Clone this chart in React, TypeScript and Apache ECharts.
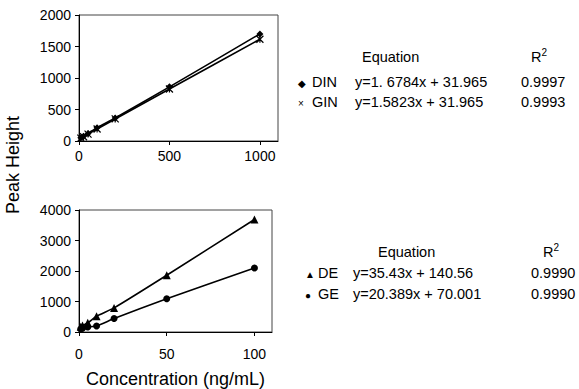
import React, { useEffect, useRef } from "react";
import * as echarts from "echarts";

const xTop = [10, 25, 50, 100, 200, 500, 1000];
const dinValues = [50, 75, 120, 210, 365, 860, 1700];
const ginValues = [45, 68, 110, 190, 350, 825, 1615];

const xBottom = [1, 2, 5, 10, 20, 50, 100];
const deValues = [170, 215, 300, 520, 790, 1860, 3690];
const geValues = [100, 125, 165, 195, 440, 1090, 2100];

const topYTicks = [0, 500, 1000, 1500, 2000];
const bottomYTicks = [0, 1000, 2000, 3000, 4000];

const topRows = [
  { mark: "◆", name: "DIN", eq: "y=1. 6784x + 31.965", r2: "0.9997" },
  { mark: "×", name: "GIN", eq: "y=1.5823x + 31.965", r2: "0.9993" },
];
const bottomRows = [
  { mark: "▲", name: "DE", eq: "y=35.43x + 140.56", r2: "0.9990" },
  { mark: "●", name: "GE", eq: "y=20.389x + 70.001", r2: "0.9990" },
];

const FONT = "Liberation Sans, Arial, sans-serif";
const crossPath = "path://M0,0L10,10M10,0L0,10M5,0L5,10";

export default function App() {
  const ref = useRef<HTMLDivElement>(null);
  useEffect(() => {
    if (!ref.current) return;
    const chart = echarts.init(ref.current, undefined, { renderer: "svg" });
    const axisCommon = {
      axisLine: { show: true, lineStyle: { color: "#000", width: 1 } },
      axisTick: { show: true, inside: false, length: 4, lineStyle: { color: "#000" } },
      splitLine: { show: false },
      axisLabel: {
        color: "#000",
        fontSize: 14,
        fontFamily: FONT,
        margin: 8,
        formatter: (v: number) => String(v),
      },
    };
    const base = { fill: "#000", fontSize: 14.5, fontFamily: FONT, verticalAlign: "middle" };
    const tableText: any[] = [];
    const buildTable = (
      rows: any[],
      headY: number,
      eqHeadX: number,
      r2X: number,
      markX: number,
      nameX: number,
      eqX: number,
      valX: number,
      rowYs: number[]
    ) => {
      tableText.push({ type: "text", x: eqHeadX, y: headY, style: { ...base, text: "Equation" } });
      tableText.push({
        type: "text",
        x: r2X,
        y: headY,
        style: {
          ...base,
          text: "R{sup|2}",
          rich: {
            sup: { fontSize: 10, fontFamily: FONT, fill: "#000", verticalAlign: "top", padding: [0, 0, 9, 0] },
          },
        },
      });
      rows.forEach((r, i) => {
        const y = rowYs[i];
        tableText.push({ type: "text", x: markX, y: y + 1, style: { ...base, fontSize: 10, text: r.mark } });
        tableText.push({ type: "text", x: nameX, y, style: { ...base, text: r.name } });
        tableText.push({ type: "text", x: eqX, y, style: { ...base, text: r.eq } });
        tableText.push({ type: "text", x: valX, y, style: { ...base, text: r.r2 } });
      });
    };
    buildTable(topRows, 57, 362, 531, 298, 312, 355, 521, [82, 102]);
    buildTable(bottomRows, 252, 378, 543, 305, 318, 353, 531, [273, 294]);

    const lineStyle = { color: "#000", width: 1.6 };
    chart.setOption({
      animation: false,
      backgroundColor: "#fff",
      textStyle: { fontFamily: FONT },
      grid: [
        { left: 79, top: 15, width: 199, height: 126, show: true, borderColor: "#444", borderWidth: 1 },
        { left: 79, top: 210, width: 193, height: 124, show: true, borderColor: "#444", borderWidth: 1 },
      ],
      xAxis: [
        {
          ...axisCommon,
          gridIndex: 0,
          type: "value",
          min: 0,
          max: 1100,
          interval: 500,
          axisLabel: { ...axisCommon.axisLabel, showMaxLabel: false, margin: 8 },
        },
        {
          ...axisCommon,
          gridIndex: 1,
          type: "value",
          min: 0,
          max: 110,
          interval: 50,
          axisLabel: { ...axisCommon.axisLabel, showMaxLabel: false, margin: 15 },
          name: "Concentration (ng/mL)",
          nameLocation: "middle",
          nameGap: 38,
          nameTextStyle: { color: "#000", fontSize: 18, fontFamily: FONT, verticalAlign: "top" },
        },
      ],
      yAxis: [
        {
          ...axisCommon,
          gridIndex: 0,
          type: "value",
          min: topYTicks[0],
          max: topYTicks[topYTicks.length - 1],
          interval: 500,
        },
        {
          ...axisCommon,
          gridIndex: 1,
          type: "value",
          min: bottomYTicks[0],
          max: bottomYTicks[bottomYTicks.length - 1],
          interval: 1000,
        },
      ],
      series: [
        {
          type: "line",
          xAxisIndex: 0,
          yAxisIndex: 0,
          data: xTop.map((x, i) => [x, dinValues[i]]),
          smooth: 0.2,
          symbol: "diamond",
          symbolSize: 7,
          itemStyle: { color: "#000" },
          lineStyle,
        },
        {
          type: "line",
          xAxisIndex: 0,
          yAxisIndex: 0,
          data: xTop.map((x, i) => [x, ginValues[i]]),
          smooth: 0.2,
          symbol: crossPath,
          symbolSize: 7,
          itemStyle: { color: "none", borderColor: "#000", borderWidth: 1.2 },
          lineStyle,
        },
        {
          type: "line",
          xAxisIndex: 1,
          yAxisIndex: 1,
          data: xBottom.map((x, i) => [x, deValues[i]]),
          smooth: 0.2,
          symbol: "triangle",
          symbolSize: 8,
          itemStyle: { color: "#000" },
          lineStyle,
        },
        {
          type: "line",
          xAxisIndex: 1,
          yAxisIndex: 1,
          data: xBottom.map((x, i) => [x, geValues[i]]),
          smooth: 0.2,
          symbol: "circle",
          symbolSize: 7,
          itemStyle: { color: "#000" },
          lineStyle,
        },
      ],
      graphic: [
        {
          type: "text",
          x: 13,
          y: 165,
          rotation: Math.PI / 2,
          style: {
            ...base,
            fontSize: 18,
            text: "Peak Height",
            align: "center",
            verticalAlign: "middle",
          },
        },
        ...tableText,
      ],
    });
    return () => chart.dispose();
  }, []);
  return (
    <div
      ref={ref}
      style={{ position: "absolute", left: 0, top: 0, width: 579, height: 389 }}
    />
  );
}
